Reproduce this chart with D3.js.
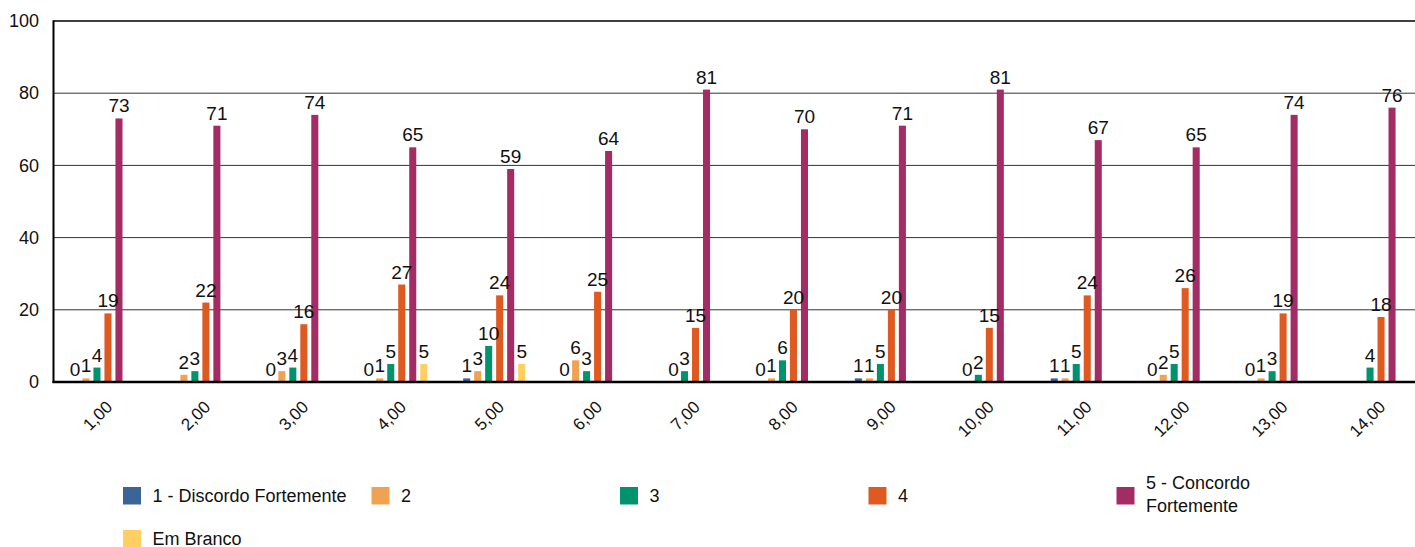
<!DOCTYPE html>
<html>
<head>
<meta charset="utf-8">
<script src="https://cdn.jsdelivr.net/npm/d3@7/dist/d3.min.js"></script>
<style>
  html, body { margin: 0; padding: 0; background: #fff; }
  svg text { font-family: "Liberation Sans", Arial, Helvetica, sans-serif; }
</style>
</head>
<body>
<svg id="chart" width="1415" height="547"></svg>
<script>
const categories = ["1,00","2,00","3,00","4,00","5,00","6,00","7,00","8,00","9,00","10,00","11,00","12,00","13,00","14,00"];
const seriesNames = ["1 - Discordo Fortemente", "2", "3", "4", "5 - Concordo Fortemente", "Em Branco"];
const seriesColors = ["#3b6597", "#f0a253", "#00936e", "#de5a21", "#a22c63", "#ffcf62"];
const s1 = [0, null, 0, 0, 1, 0, null, 0, 1, null, 1, 0, 0, null];
const s2 = [1, 2, 3, 1, 3, 6, 0, 1, 1, 0, 1, 2, 1, null];
const s3 = [4, 3, 4, 5, 10, 3, 3, 6, 5, 2, 5, 5, 3, 4];
const s4 = [19, 22, 16, 27, 24, 25, 15, 20, 20, 15, 24, 26, 19, 18];
const s5 = [73, 71, 74, 65, 59, 64, 81, 70, 71, 81, 67, 65, 74, 76];
const sBlank = [null, null, null, 5, 5, null, null, null, null, null, null, null, null, null];
const yTicks = [0, 20, 40, 60, 80, 100];

const seriesValues = [s1, s2, s3, s4, s5, sBlank];
const FONT = "Liberation Sans, Arial, Helvetica, sans-serif";

const svg = d3.select("#chart").attr("font-family", FONT);
const mLeft = 53.5, mTop = 21, mBottom = 382, mRight = 1424.5;

const x0 = d3.scaleBand().domain(categories).range([mLeft, mRight]).paddingInner(0).paddingOuter(0);
const groupW = 66;
const x1 = d3.scaleBand().domain(d3.range(6)).range([0, groupW]).paddingInner(0.36).paddingOuter(0.18);
const y = d3.scaleLinear().domain([0, 100]).range([mBottom, mTop]);

// gridlines
svg.append("g").selectAll("line").data(yTicks.filter(t => t > 0 && t < 100)).join("line")
  .attr("x1", mLeft).attr("x2", 1415)
  .attr("y1", d => y(d)).attr("y2", d => y(d))
  .attr("stroke", "#333").attr("stroke-width", 1);
// top border
svg.append("line").attr("x1", mLeft).attr("x2", 1415).attr("y1", y(100)).attr("y2", y(100))
  .attr("stroke", "#000").attr("stroke-width", 1.6);

// bars
const data = [];
categories.forEach((c, i) => {
  seriesValues.forEach((arr, s) => {
    if (arr[i] !== null) data.push({cat: c, s: s, v: arr[i]});
  });
});
const gx = c => x0(c) + x0.bandwidth() / 2 - groupW / 2;

svg.append("g").selectAll("rect").data(data.filter(d => d.v > 0)).join("rect")
  .attr("x", d => gx(d.cat) + x1(d.s))
  .attr("width", x1.bandwidth())
  .attr("y", d => y(d.v))
  .attr("height", d => y(0) - y(d.v))
  .attr("fill", d => seriesColors[d.s]);

// value labels
svg.append("g").selectAll("text").data(data).join("text")
  .attr("x", d => gx(d.cat) + x1(d.s) + x1.bandwidth() / 2)
  .attr("y", d => y(d.v) - 6)
  .attr("text-anchor", "middle")
  .attr("font-size", 19)
  .attr("fill", "#111")
  .text(d => d.v);

// left axis
const yAxis = svg.append("g").attr("transform", `translate(${mLeft},0)`)
  .call(d3.axisLeft(y).tickValues(yTicks).tickSize(0).tickPadding(14.5))
  .attr("font-family", FONT).attr("font-size", 18);
yAxis.select(".domain").remove();
yAxis.selectAll("text").attr("fill", "#111");
svg.append("line").attr("x1", mLeft).attr("x2", mLeft).attr("y1", mTop - 0.8).attr("y2", mBottom + 1)
  .attr("stroke", "#000").attr("stroke-width", 2);

// bottom axis
const xAxis = svg.append("g").attr("transform", `translate(0,${mBottom})`)
  .call(d3.axisBottom(x0).tickSize(0))
  .attr("font-family", FONT).attr("font-size", 17);
xAxis.select(".domain").remove();
xAxis.selectAll("text")
  .attr("fill", "#111")
  .attr("text-anchor", "end")
  .attr("x", 11).attr("y", 26).attr("dy", 0)
  .attr("transform", "rotate(-45,11,26)");
svg.append("line").attr("x1", mLeft - 1).attr("x2", 1415).attr("y1", mBottom).attr("y2", mBottom)
  .attr("stroke", "#000").attr("stroke-width", 2.4);

// legend
const legendCols = [123, 371.5, 620, 868.5, 1116.5];
const legendItems = seriesNames.map((n, i) => ({
  name: n, color: seriesColors[i],
  col: i < 5 ? i : 0, row: i < 5 ? 0 : 1
}));
const lg = svg.append("g").selectAll("g").data(legendItems).join("g")
  .attr("transform", d => `translate(${legendCols[d.col]},${d.row === 0 ? 487 : 530})`);
lg.append("rect").attr("width", 18).attr("height", 17.5).attr("fill", d => d.color);
lg.each(function(d, i) {
  const g = d3.select(this);
  const t = g.append("text").attr("x", 29.5).attr("font-size", 18).attr("fill", "#111");
  if (i === 4) {
    t.append("tspan").attr("x", 29.5).attr("y", 2).text("5 - Concordo");
    t.append("tspan").attr("x", 29.5).attr("y", 24.5).text("Fortemente");
  } else {
    t.attr("y", 14.5).text(d.name);
  }
});
</script>
</body>
</html>
